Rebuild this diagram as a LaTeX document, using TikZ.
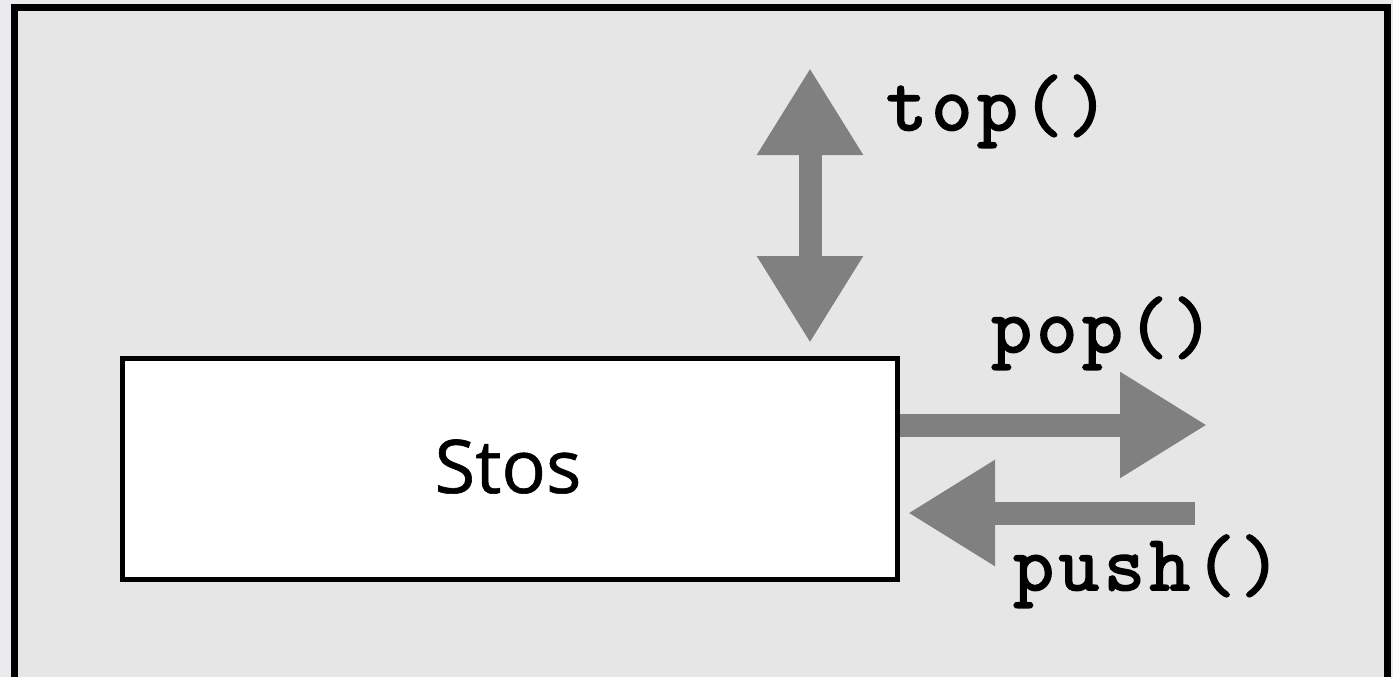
\documentclass[tikz,border=0pt]{standalone}
\usepackage{fontspec}
\usetikzlibrary{arrows.meta, positioning}
\newfontfamily\stosfont{Open Sans}[FakeBold=0.8]
\newfontfamily\codefont{Latin Modern Mono}[FakeBold=2.5, LetterSpace=6]
\definecolor{outsidegray}{HTML}{EBEBED}
\definecolor{framegray}{HTML}{E6E6E6}
\definecolor{arrowgray}{HTML}{808080}

\begin{document}
\begin{tikzpicture}[x=1pt, y=-1pt,
        bigarrow/.style={draw=arrowgray, line width=23pt,
            -{Triangle[width=100pt, length=87pt, fill=arrowgray]}},
        codelabel/.style={inner sep=0pt, anchor=base west,
            font=\codefont\fontsize{79}{84}\selectfont}]
        % tlo i ramka
        \useasboundingbox (0,0) rectangle (1393,677);
        \fill[outsidegray] (0,0) rectangle (1393,677);
        \draw[line width=7pt, fill=framegray] (14,8) rectangle (1387,720);

        % stos
        \node (stos) [draw, line width=5pt, fill=white, minimum width=775pt, minimum height=221pt, anchor=north west] at (120,356) {};
        \node (stostxt) [inner sep=0pt, anchor=base, font=\stosfont\fontsize{74}{80}\selectfont] at (508,493) {Stos};

        % koncowki strzalek
        \coordinate (topend) at (810,68);
        \coordinate (topstart) at (810,343);
        \coordinate (popend) at (1207,425);
        \coordinate (pushstart) at (1195,513);
        \coordinate (pushend) at (908,513);

        \draw[bigarrow, {Triangle[width=100pt, length=87pt, fill=arrowgray]}-{Triangle[width=100pt, length=87pt, fill=arrowgray]}] (topstart) -- (topend);
        \draw[bigarrow] (stos.east |- popend) -- (popend);
        \draw[bigarrow] (pushstart) -- (pushend);

        % etykiety
        \node (toplbl) [codelabel] at (886,130) {top()};
        \node (poplbl) [codelabel] at (991,352) {pop()};
        \node (pushlbl) [codelabel] at (1013,590) {push()};
    \end{tikzpicture}
\end{document}
